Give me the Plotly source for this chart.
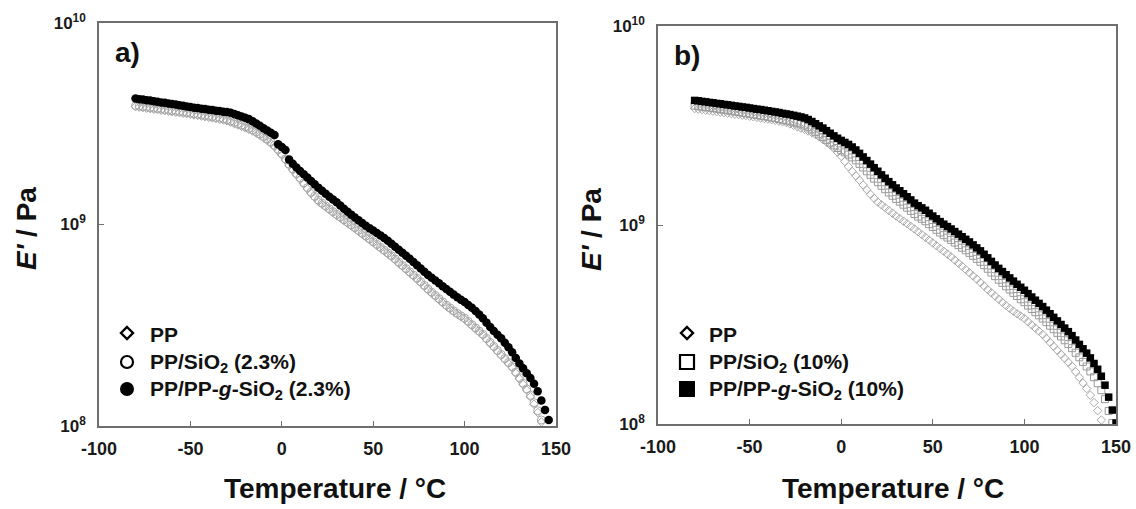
import plotly.graph_objects as go

# Temperature grid (°C) shared by all series (each series uses its first n points)
temps = [-80, -78, -76, -74, -72, -70, -68, -66, -64, -62, -60, -58, -56, -54, -52, -50,
         -48, -46, -44, -42, -40, -38, -36, -34, -32, -30, -28, -26, -24, -22, -20, -18,
         -16, -14, -12, -10, -8, -6, -4, -2, 0, 2, 4, 6, 8, 10, 12, 14, 16, 18, 20, 22,
         24, 26, 28, 30, 32, 34, 36, 38, 40, 42, 44, 46, 48, 50, 52, 54, 56, 58, 60, 62,
         64, 66, 68, 70, 72, 74, 76, 78, 80, 82, 84, 86, 88, 90, 92, 94, 96, 98, 100, 102,
         104, 106, 108, 110, 112, 114, 116, 118, 120, 122, 124, 126, 128, 130, 132, 134,
         136, 138, 140, 142, 144, 146, 148, 150]

# log10(E' / Pa)
logE_pp = [9.585, 9.582, 9.580, 9.577, 9.575, 9.572, 9.570, 9.567, 9.565, 9.562, 9.560, 9.557,
           9.555, 9.552, 9.550, 9.547, 9.544, 9.541, 9.538, 9.535, 9.532, 9.529, 9.526, 9.522,
           9.519, 9.515, 9.508, 9.501, 9.494, 9.487, 9.480, 9.472, 9.464, 9.454, 9.443, 9.430,
           9.417, 9.403, 9.386, 9.366, 9.345, 9.319, 9.293, 9.269, 9.247, 9.225, 9.201, 9.177,
           9.154, 9.134, 9.115, 9.101, 9.087, 9.073, 9.059, 9.045, 9.032, 9.019, 9.006, 8.993,
           8.980, 8.966, 8.952, 8.938, 8.924, 8.910, 8.896, 8.882, 8.868, 8.854, 8.840, 8.824,
           8.808, 8.792, 8.776, 8.760, 8.744, 8.728, 8.711, 8.693, 8.675, 8.659, 8.643, 8.627,
           8.611, 8.595, 8.581, 8.567, 8.554, 8.542, 8.530, 8.514, 8.498, 8.482, 8.466, 8.450,
           8.430, 8.410, 8.390, 8.370, 8.350, 8.330, 8.310, 8.290, 8.262, 8.234, 8.206, 8.178,
           8.145, 8.108, 8.067, 8.020]

logE_sio2_23 = [9.590, 9.588, 9.585, 9.583, 9.580, 9.578, 9.575, 9.573, 9.570, 9.568, 9.565, 9.563,
                9.560, 9.558, 9.555, 9.553, 9.550, 9.547, 9.544, 9.541, 9.538, 9.535, 9.531, 9.528,
                9.524, 9.520, 9.514, 9.507, 9.500, 9.493, 9.486, 9.478, 9.470, 9.460, 9.449, 9.437,
                9.424, 9.410, 9.393, 9.373, 9.352, 9.326, 9.300, 9.276, 9.253, 9.231, 9.207, 9.183,
                9.160, 9.140, 9.121, 9.106, 9.092, 9.078, 9.064, 9.050, 9.037, 9.024, 9.011, 8.998,
                8.985, 8.971, 8.957, 8.943, 8.929, 8.915, 8.901, 8.887, 8.873, 8.859, 8.845, 8.829,
                8.813, 8.797, 8.781, 8.765, 8.749, 8.733, 8.716, 8.698, 8.680, 8.664, 8.648, 8.632,
                8.616, 8.600, 8.586, 8.572, 8.559, 8.547, 8.535, 8.519, 8.503, 8.487, 8.471, 8.455,
                8.435, 8.415, 8.395, 8.375, 8.355, 8.335, 8.315, 8.295, 8.268, 8.240, 8.212, 8.184,
                8.152, 8.116, 8.076, 8.030]

logE_gsio2_23 = [9.625, 9.622, 9.620, 9.617, 9.615, 9.612, 9.609, 9.606, 9.604, 9.601, 9.598, 9.595,
                 9.592, 9.589, 9.586, 9.583, 9.580, 9.578, 9.575, 9.573, 9.570, 9.568, 9.565, 9.563,
                 9.560, 9.558, 9.555, 9.549, 9.542, 9.536, 9.530, 9.523, 9.513, 9.501, 9.490, 9.478,
                 9.467, 9.455, 9.444, 9.398, 9.385, 9.370, 9.322, 9.302, 9.283, 9.265, 9.249, 9.233,
                 9.216, 9.200, 9.183, 9.168, 9.153, 9.138, 9.124, 9.110, 9.094, 9.078, 9.063, 9.049,
                 9.035, 9.021, 9.007, 8.994, 8.982, 8.970, 8.958, 8.946, 8.933, 8.919, 8.905, 8.890,
                 8.875, 8.860, 8.845, 8.830, 8.814, 8.798, 8.782, 8.766, 8.750, 8.736, 8.722, 8.708,
                 8.694, 8.680, 8.666, 8.652, 8.639, 8.627, 8.615, 8.601, 8.587, 8.571, 8.553, 8.535,
                 8.513, 8.491, 8.471, 8.453, 8.435, 8.413, 8.391, 8.366, 8.338, 8.310, 8.286, 8.262,
                 8.238, 8.210, 8.172, 8.126, 8.080, 8.030]

logE_sio2_10 = [9.600, 9.598, 9.595, 9.593, 9.590, 9.588, 9.585, 9.582, 9.580, 9.577, 9.574, 9.571,
                9.568, 9.565, 9.562, 9.559, 9.556, 9.553, 9.550, 9.547, 9.544, 9.540, 9.537, 9.533,
                9.529, 9.525, 9.521, 9.516, 9.511, 9.506, 9.500, 9.491, 9.480, 9.467, 9.455, 9.442,
                9.428, 9.414, 9.400, 9.387, 9.375, 9.365, 9.354, 9.340, 9.325, 9.307, 9.289, 9.270,
                9.252, 9.233, 9.215, 9.197, 9.180, 9.163, 9.147, 9.131, 9.117, 9.102, 9.087, 9.071,
                9.055, 9.042, 9.031, 9.019, 9.004, 8.990, 8.976, 8.962, 8.949, 8.937, 8.925, 8.912,
                8.899, 8.886, 8.873, 8.860, 8.845, 8.830, 8.815, 8.798, 8.780, 8.761, 8.743, 8.725,
                8.709, 8.692, 8.676, 8.659, 8.643, 8.627, 8.612, 8.595, 8.578, 8.562, 8.546, 8.530,
                8.512, 8.494, 8.476, 8.458, 8.440, 8.421, 8.402, 8.381, 8.358, 8.335, 8.312, 8.289,
                8.264, 8.235, 8.205, 8.170, 8.125, 8.065, 8.005]

logE_gsio2_10 = [9.626, 9.624, 9.621, 9.619, 9.616, 9.614, 9.611, 9.609, 9.606, 9.604, 9.601, 9.598,
                 9.596, 9.593, 9.591, 9.588, 9.585, 9.582, 9.580, 9.577, 9.574, 9.571, 9.568, 9.565,
                 9.561, 9.558, 9.555, 9.551, 9.547, 9.543, 9.538, 9.530, 9.520, 9.509, 9.498, 9.487,
                 9.474, 9.461, 9.448, 9.436, 9.425, 9.415, 9.405, 9.392, 9.377, 9.360, 9.342, 9.324,
                 9.306, 9.288, 9.270, 9.252, 9.235, 9.218, 9.202, 9.186, 9.172, 9.157, 9.142, 9.126,
                 9.110, 9.097, 9.086, 9.074, 9.059, 9.045, 9.031, 9.017, 9.004, 8.992, 8.980, 8.967,
                 8.954, 8.941, 8.928, 8.915, 8.900, 8.885, 8.870, 8.853, 8.835, 8.817, 8.799, 8.782,
                 8.766, 8.750, 8.734, 8.718, 8.702, 8.687, 8.672, 8.655, 8.638, 8.622, 8.606, 8.590,
                 8.572, 8.554, 8.536, 8.518, 8.500, 8.482, 8.464, 8.444, 8.422, 8.400, 8.378, 8.356,
                 8.332, 8.304, 8.275, 8.240, 8.195, 8.135, 8.070, 8.005]

x_ticks = [-100, -50, 0, 50, 100, 150]
x_ticktext = ["-100", "-50", "0", "50", "100", "150"]
y_ticks = [1e8, 1e9, 1e10]
y_ticktext = ["10<sup>8</sup>", "10<sup>9</sup>", "10<sup>10</sup>"]

names_a = ["PP", "PP/SiO<sub>2</sub> (2.3%)", "PP/PP-<i>g</i>-SiO<sub>2</sub> (2.3%)"]
names_b = ["PP", "PP/SiO<sub>2</sub> (10%)", "PP/PP-<i>g</i>-SiO<sub>2</sub> (10%)"]
panel_labels = ["a)", "b)"]
x_title = "Temperature / °C"
y_title = "<i>E'</i> / Pa"


def pa(logs):
    return [10 ** v for v in logs]


FONT = "Arial, Liberation Sans, sans-serif"
GREY = "#a8a8a8"
W, H = 1136, 509

fig = go.Figure()

# ---------- panel a ----------
fig.add_trace(go.Scatter(x=temps[:len(logE_pp)], y=pa(logE_pp), mode="markers", name="PP",
                         marker=dict(symbol="diamond-open", size=6.5, color=GREY, line=dict(width=1, color=GREY)),
                         showlegend=False, xaxis="x", yaxis="y"))
fig.add_trace(go.Scatter(x=temps[:len(logE_sio2_23)], y=pa(logE_sio2_23), mode="markers", name="PP/SiO2 (2.3%)",
                         marker=dict(symbol="circle-open", size=8, color=GREY, line=dict(width=1, color=GREY)),
                         showlegend=False, xaxis="x", yaxis="y"))
fig.add_trace(go.Scatter(x=temps[:len(logE_gsio2_23)], y=pa(logE_gsio2_23), mode="markers",
                         name="PP/PP-g-SiO2 (2.3%)",
                         marker=dict(symbol="circle", size=8.5, color="#000000", line=dict(width=0)),
                         showlegend=False, xaxis="x", yaxis="y"))

# ---------- panel b ----------
fig.add_trace(go.Scatter(x=temps[:len(logE_pp)], y=pa(logE_pp), mode="markers", name="PP",
                         marker=dict(symbol="diamond-open", size=6.5, color=GREY, line=dict(width=1, color=GREY)),
                         showlegend=False, xaxis="x2", yaxis="y2"))
fig.add_trace(go.Scatter(x=temps[:len(logE_sio2_10)], y=pa(logE_sio2_10), mode="markers", name="PP/SiO2 (10%)",
                         marker=dict(symbol="square-open", size=7, color="#9a9a9a", line=dict(width=1, color="#9a9a9a")),
                         showlegend=False, xaxis="x2", yaxis="y2"))
fig.add_trace(go.Scatter(x=temps[:len(logE_gsio2_10)], y=pa(logE_gsio2_10), mode="markers",
                         name="PP/PP-g-SiO2 (10%)",
                         marker=dict(symbol="square", size=7.5, color="#000000", line=dict(width=0)),
                         showlegend=False, xaxis="x2", yaxis="y2"))

axis_common = dict(showline=True, linecolor="#6e6e6e", linewidth=1.5, mirror=True, automargin=False,
                   showgrid=False, zeroline=False, ticks="inside", ticklen=5, tickwidth=1.2,
                   tickcolor="#6e6e6e")
xaxis_style = dict(axis_common, range=[-100, 150], tickvals=x_ticks, ticktext=x_ticktext,
                   ticklabelstandoff=6,
                   tickfont=dict(family=FONT, size=18, color="#1a1a1a", weight="bold"))
yaxis_style = dict(axis_common, type="log", range=[8, 10], tickvals=y_ticks, ticktext=y_ticktext,
                   tickfont=dict(family=FONT, size=17, color="#1a1a1a", weight="bold"),
                   ticklabelstandoff=8)

fig.update_layout(
    width=W, height=H,
    margin=dict(l=0, r=0, t=0, b=0),
    paper_bgcolor="white", plot_bgcolor="white",
    showlegend=False,
    xaxis=dict(xaxis_style, domain=[99 / W, 556 / W], anchor="y"),
    yaxis=dict(yaxis_style, domain=[1 - 426 / H, 1 - 23 / H], anchor="x"),
    xaxis2=dict(xaxis_style, domain=[658 / W, 1116 / W], anchor="y2"),
    yaxis2=dict(yaxis_style, domain=[1 - 424 / H, 1 - 26 / H], anchor="x2"),
)

for lab, xr, yr in zip(panel_labels, ["x domain", "x2 domain"], ["y domain", "y2 domain"]):
    fig.add_annotation(text=lab, xref=xr, yref=yr, x=0.03, y=0.97, xanchor="left", yanchor="top",
                       showarrow=False, font=dict(family=FONT, size=28, color="#111111", weight="bold"))

# axis titles placed where they sit in the original
for cx in [335, 893]:
    fig.add_annotation(text=x_title, xref="paper", yref="paper", x=cx / W, y=1 - 488 / H,
                       xanchor="center", yanchor="middle", showarrow=False,
                       font=dict(family=FONT, size=28, color="#111111", weight="bold"))
for cx in [26, 591]:
    fig.add_annotation(text=y_title, xref="paper", yref="paper", x=cx / W, y=1 - 229 / H,
                       xanchor="center", yanchor="middle", textangle=-90, showarrow=False,
                       font=dict(family=FONT, size=28, color="#111111", weight="bold"))


# ---------- legends (drawn like the original: black symbols + bold labels) ----------
def px(x):
    return x / W


def py(y):
    return 1 - y / H


def legend_symbol(kind, cx, cy, s):
    r = s / 2
    common = dict(xref="paper", yref="paper", layer="above")
    if kind == "diamond":
        path = (f"M {px(cx)},{py(cy - r)} L {px(cx + r)},{py(cy)} "
                f"L {px(cx)},{py(cy + r)} L {px(cx - r)},{py(cy)} Z")
        fig.add_shape(type="path", path=path, line=dict(color="#000000", width=2.4),
                      fillcolor="white", **common)
    elif kind in ("circle", "circle-filled"):
        filled = kind == "circle-filled"
        fig.add_shape(type="circle", x0=px(cx - r), x1=px(cx + r), y0=py(cy + r), y1=py(cy - r),
                      line=dict(color="#000000", width=0 if filled else 2.2),
                      fillcolor="#000000" if filled else "white", **common)
    else:
        filled = kind == "square-filled"
        fig.add_shape(type="rect", x0=px(cx - r), x1=px(cx + r), y0=py(cy + r), y1=py(cy - r),
                      line=dict(color="#000000", width=0 if filled else 2.2),
                      fillcolor="#000000" if filled else "white", **common)


legend_rows_y = [333, 362, 389]
legend_specs = [
    (names_a, ["diamond", "circle", "circle-filled"], [12, 12, 14], 127, 148),
    (names_b, ["diamond", "square", "square-filled"], [12, 14, 16], 687, 707),
]
for names, kinds, sizes, sym_x, text_x in legend_specs:
    for nm, kind, s, ry in zip(names, kinds, sizes, legend_rows_y):
        legend_symbol(kind, sym_x, ry, s)
        fig.add_annotation(text=nm, xref="paper", yref="paper", x=px(text_x), y=py(ry + 1),
                           xanchor="left", yanchor="middle", showarrow=False,
                           font=dict(family=FONT, size=21, color="#111111", weight="bold"))

fig.write_html("out.html")
